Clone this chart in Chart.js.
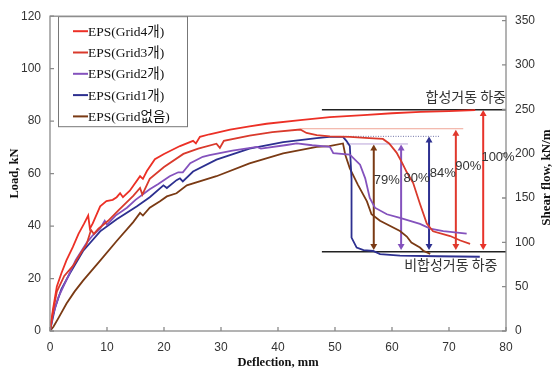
<!DOCTYPE html>
<html>
<head>
<meta charset="utf-8">
<script src="https://cdn.jsdelivr.net/npm/chart.js@4.4.0/dist/chart.umd.min.js"></script>
<style>
  html, body { margin: 0; padding: 0; background: #fff; }
  #wrap { width: 555px; height: 376px; }
</style>
</head>
<body>
<div id="wrap"><canvas id="chart"></canvas></div>
<script>
// Load-deflection curves, [deflection mm, load kN]
const seriesNames = ['EPS(Grid4개)', 'EPS(Grid3개)', 'EPS(Grid2개)', 'EPS(Grid1개)', 'EPS(Grid없음)'];
const seriesColors = ['#ec3026', '#d93a2c', '#8452bd', '#2d3090', '#7a3a14'];

const grid4 = [[0,0],[0.5,8],[1.2,17],[2,22],[2.9,27],[4,32],[5,37],[6,41],[6.7,44],[7,39],[7.5,41],[7.9,43],
  [8.8,47.5],[9.9,49.5],[11,50],[11.7,51],[12.3,52.5],[12.8,51],[14,53.5],[15.8,59],[16.3,58],[17,61],[18.4,65.5],
  [20,67.5],[22.8,70.5],[25.1,72.5],[25.6,71.5],[26.3,74],[28,75],[31.6,76.8],[35,78],[38,79],[43.9,80.4],
  [49.1,81.5],[55,82.3],[60,83],[65,83.5],[70,83.8],[74.6,84.2]];
const grid3 = [[0,0],[0.5,7],[1.2,15],[2.5,21],[4.1,25],[5.5,30],[6.4,33],[7.2,38.5],[7.7,37],[8.5,39],[10.2,42],
  [12,46],[14.6,51.5],[15.8,54.5],[16.2,52],[17.5,58],[20,62.5],[23.4,67.5],[26,69.5],[29.2,71.4],[29.8,69.8],
  [30.5,72.5],[35,74.5],[39,75.8],[43.9,76.8],[45,75.5],[46.8,74.7],[49.1,74.2],[52.6,74],[56,73.5],[58.4,73.2],
  [59.5,71.5],[60.8,68],[61.8,64],[62.6,60.5],[63.7,56.5],[64.9,48.5],[66.1,41],[67.2,38],[70.2,36.2],[72,34.5],[73.7,33.2]];
const grid2 = [[0,0],[0.5,6],[1.5,13],[3,20],[4.5,27],[6.4,33.5],[7.5,36.5],[8.8,39],[9.6,42],[10,40.5],[11.5,44],
  [13.5,47],[15,50],[17.5,54],[19,56],[21,59],[22.5,60.5],[23.3,60.5],[24.6,64],[26.8,66.4],[28,67],[32,68.8],
  [36.3,70.2],[37,69.5],[41.5,70.9],[43.3,71.5],[46,70.8],[49.1,70.2],[49.7,67.8],[52.6,67.2],[54.4,63.4],[55.3,58.2],
  [56.1,50.7],[57,47],[59.1,44.5],[61.4,43.1],[64.9,40.8],[66.7,39],[69,38.1],[73.1,37.1]];
const grid1 = [[0,0],[0.9,9],[2,16],[3.5,22],[5.8,30.5],[8.8,38],[11.7,42.6],[15.2,47.5],[17.5,51],[19.9,55.5],
  [20.5,54.5],[22.2,57.5],[22.8,58.2],[23.3,57],[25.1,60.8],[29.2,65.3],[35,69.5],[40.9,72],[46.8,73.5],[49,74],
  [51.4,74],[52,72.5],[52.6,70.5],[52.9,58],[52.9,35.6],[53.8,31.8],[55,30.8],[56.7,30.5],[57.9,29.3],[61.4,28.7],
  [68,28.5],[75.4,28.3]];
const gridNone = [[0,0],[0.6,1.6],[1.5,5],[2.9,10.5],[4.3,15],[5.8,19.2],[8.8,26.8],[11.7,34.3],[14.6,41.5],[15.8,45],
  [16.3,44],[17.5,47],[19.3,49.5],[20.5,51.3],[22.2,52.5],[24,55.5],[29.2,59],[35,63.9],[40.9,67.7],[46.8,70.2],
  [49,70.5],[51.4,71.5],[51.8,67.2],[52.6,62],[54,55.8],[55.6,49.4],[56.4,44.5],[57.9,42],[61.4,38.1],[62.6,36],
  [63.4,33.7],[64.9,31.8],[65.5,30.6],[66.7,29.4]];

// reference loads
const compositeLoad = [[47.7,84.3],[80,84.3]];
const nonCompositeLoad = [[47.7,30.2],[80,30.2]];
const peak90 = [[44,77.1],[72.5,77.1]];
const peak84 = [[51.4,74.2],[68.4,74.2]];
const peak80 = [[52,71.3],[62.8,71.3]];

// double arrows, [deflection, load] at head centres
const arrow79 = [[56.8,69.6],[56.8,32.4]];
const arrow80 = [[61.6,69.6],[61.6,32.4]];
const arrow84 = [[66.5,72.6],[66.5,32.4]];
const arrow90 = [[71.2,75.2],[71.2,32.4]];
const arrow100 = [[76.0,82.7],[76.0,32.4]];

const percentLabels = ['79%', '80%', '84%', '90%', '100%'];

const xTicks = [0, 10, 20, 30, 40, 50, 60, 70, 80];
const loadTicks = [0, 20, 40, 60, 80, 100, 120];
const shearTicks = [0, 50, 100, 150, 200, 250, 300, 350];

const toXY = arr => arr.map(p => ({ x: p[0], y: p[1] }));

const curve = (i, data) => ({
  label: seriesNames[i], data: toXY(data), borderColor: seriesColors[i], backgroundColor: seriesColors[i],
  borderWidth: 1.8, pointRadius: 0, tension: 0
});
const refLine = (data, color, width, dash) => ({
  data: toXY(data), borderColor: color, borderWidth: width, borderDash: dash || [], pointRadius: 0
});
const arrow = (data, color) => ({
  data: toXY(data), borderColor: color, backgroundColor: color, borderWidth: 2,
  pointStyle: 'triangle', pointRadius: 4, pointHoverRadius: 4, pointBorderWidth: 0, pointRotation: [0, 180]
});

const datasets = [
  curve(0, grid4), curve(1, grid3), curve(2, grid2), curve(3, grid1), curve(4, gridNone),
  refLine(compositeLoad, '#222', 1.5), refLine(nonCompositeLoad, '#222', 1.5),
  refLine(peak90, '#f0a597', 1), refLine(peak84, '#6f72a8', 1, [1, 1.5]), refLine(peak80, '#b9a4d8', 1),
  arrow(arrow79, '#7a3a14'), arrow(arrow80, '#8452bd'), arrow(arrow84, '#2d3090'),
  arrow(arrow90, '#e0392d'), arrow(arrow100, '#e8332a')
];

// text annotations in data coordinates
const notes = [
  { text: percentLabels[0], x: 59.1, y: 57.5, align: 'center' },
  { text: percentLabels[1], x: 64.3, y: 58.0, align: 'center' },
  { text: percentLabels[2], x: 68.9, y: 60.0, align: 'center' },
  { text: percentLabels[3], x: 73.4, y: 62.6, align: 'center' },
  { text: percentLabels[4], x: 78.6, y: 66.0, align: 'center' },
  { text: '합성거동 하중', x: 80, y: 89.5, align: 'right', korean: true },
  { text: '비합성거동 하중', x: 78.5, y: 25.2, align: 'right', korean: true }
];

const serif = '"Liberation Serif", "Times New Roman", "Noto Sans CJK KR", serif';
const sans = '"Liberation Sans", Arial, "Noto Sans CJK KR", sans-serif';
const korean = '"Noto Sans CJK KR", sans-serif';

const decor = {
  id: 'decor',
  afterDraw(chart) {
    const { ctx, chartArea: a, scales } = chart;
    ctx.save();
    // frame
    ctx.strokeStyle = '#8a8a8a';
    ctx.lineWidth = 1.3;
    ctx.strokeRect(a.left, a.top, a.right - a.left, a.bottom - a.top);
    // inside tick marks
    ctx.beginPath();
    xTicks.forEach(v => { const px = scales.x.getPixelForValue(v); ctx.moveTo(px, a.bottom); ctx.lineTo(px, a.bottom - 4); });
    loadTicks.forEach(v => { const py = scales.y.getPixelForValue(v); ctx.moveTo(a.left, py); ctx.lineTo(a.left + 4, py); });
    shearTicks.forEach(v => { const py = scales.y2.getPixelForValue(v); ctx.moveTo(a.right, py); ctx.lineTo(a.right - 4, py); });
    ctx.stroke();

    // annotations
    ctx.fillStyle = '#333';
    ctx.textBaseline = 'middle';
    notes.forEach(n => {
      ctx.font = n.korean ? '14px ' + korean : '13px ' + sans;
      ctx.textAlign = n.align;
      ctx.fillText(n.text, scales.x.getPixelForValue(n.x), scales.y.getPixelForValue(n.y));
    });

    // right axis title, reading bottom to top
    ctx.save();
    ctx.translate(547, (a.top + a.bottom) / 2 + 4);
    ctx.rotate(-Math.PI / 2);
    ctx.font = 'bold 13px ' + serif;
    ctx.fillStyle = '#111';
    ctx.textAlign = 'center';
    ctx.fillText('Shear flow, kN/m', 0, 0);
    ctx.restore();

    // legend box inside plot
    const bx = a.left + 8, by = a.top, bw = 129, bh = 110;
    ctx.fillStyle = '#fff';
    ctx.fillRect(bx, by, bw, bh);
    ctx.strokeStyle = '#777';
    ctx.lineWidth = 1;
    ctx.strokeRect(bx + 0.5, by + 0.5, bw, bh);
    ctx.font = '13.5px ' + serif;
    ctx.textAlign = 'left';
    seriesNames.forEach((name, i) => {
      const y = by + 15 + i * 21.3;
      ctx.strokeStyle = seriesColors[i];
      ctx.lineWidth = 2;
      ctx.beginPath();
      ctx.moveTo(bx + 15, y);
      ctx.lineTo(bx + 30, y);
      ctx.stroke();
      ctx.fillStyle = '#111';
      ctx.fillText(name, bx + 30, y + 1);
    });
    ctx.restore();
  }
};

new Chart(document.getElementById('chart'), {
  type: 'line',
  data: { datasets },
  plugins: [decor],
  options: {
    responsive: true,
    maintainAspectRatio: false,
    animation: false,
    layout: { padding: { top: 13, right: 0, left: 0, bottom: 0 } },
    plugins: { legend: { display: false }, tooltip: { enabled: false } },
    scales: {
      x: {
        type: 'linear', min: 0, max: 80,
        afterBuildTicks: s => { s.ticks = xTicks.map(v => ({ value: v })); },
        afterFit: s => { s.height = 45; },
        grid: { display: false, drawTicks: false },
        border: { display: false },
        ticks: { padding: 9, color: '#333', font: { family: sans, size: 12 } },
        title: { display: true, text: 'Deflection, mm', color: '#111', padding: { top: 0, bottom: 6 },
          font: { family: serif, size: 12.5, weight: 'bold' } }
      },
      y: {
        type: 'linear', position: 'left', min: 0, max: 120,
        afterBuildTicks: s => { s.ticks = loadTicks.map(v => ({ value: v })); },
        afterFit: s => { s.width = 50; },
        grid: { display: false, drawTicks: false },
        border: { display: false },
        ticks: { padding: 9, color: '#333', font: { family: sans, size: 12 } },
        title: { display: true, text: 'Load, kN', color: '#111', padding: { top: 7, bottom: 0 },
          font: { family: serif, size: 12.5, weight: 'bold' } }
      },
      y2: {
        type: 'linear', position: 'right', min: 0, max: 355,
        afterBuildTicks: s => { s.ticks = shearTicks.map(v => ({ value: v })); },
        afterFit: s => { s.width = 49; },
        grid: { display: false, drawTicks: false },
        border: { display: false },
        ticks: { padding: 9, color: '#333', font: { family: sans, size: 12 } }
      }
    }
  }
});
</script>
</body>
</html>
